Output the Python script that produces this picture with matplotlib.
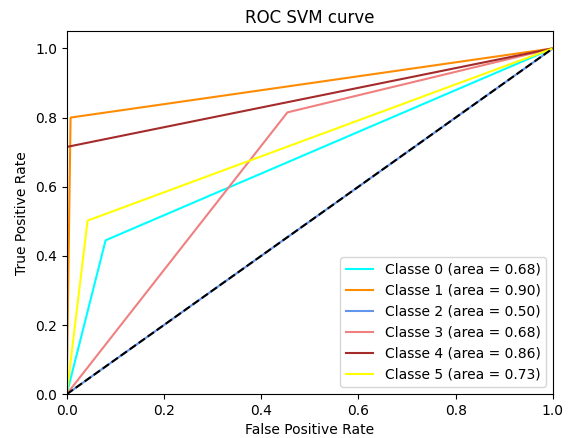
import numpy as np
import matplotlib
matplotlib.use("Agg")
import matplotlib.pyplot as plt

# one ROC point per class (between (0,0) and (1,1))
classes = [0, 1, 2, 3, 4, 5]
fpr_mid = [0.080, 0.008, 0.50, 0.454, 0.0, 0.043]
tpr_mid = [0.445, 0.800, 0.50, 0.815, 0.715, 0.502]
areas = [0.68, 0.90, 0.50, 0.68, 0.86, 0.73]
colors = ['aqua', 'darkorange', 'cornflowerblue', 'lightcoral', 'brown', 'yellow']

fig = plt.figure(figsize=(5.7, 4.38), dpi=100)
fig.subplots_adjust(left=0.117, right=0.970, top=0.929, bottom=0.100)
ax = fig.add_subplot(111)

for i, color in zip(classes, colors):
    fpr = [0.0, fpr_mid[i], 1.0]
    tpr = [0.0, tpr_mid[i], 1.0]
    ax.plot(fpr, tpr, color=color, lw=1.5,
            label='Classe {0} (area = {1:0.2f})'.format(i, areas[i]))

ax.plot([0, 1], [0, 1], 'k--', lw=1.5)
ax.set_xlim([0.0, 1.0])
ax.set_ylim([0.0, 1.05])
ax.set_xlabel('False Positive Rate')
ax.set_ylabel('True Positive Rate')
ax.set_title('ROC SVM curve')
ax.legend(loc="lower right")

fig.savefig('out.png')
